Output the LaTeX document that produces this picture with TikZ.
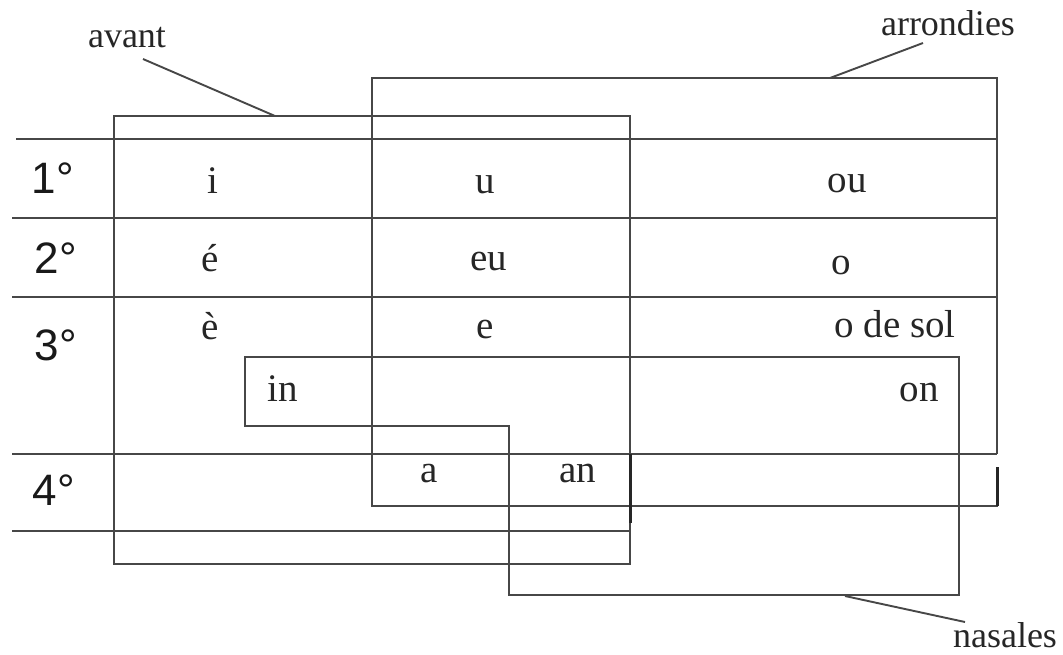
\documentclass[tikz,border=0pt]{standalone}
\usepackage{fontspec}
\setmainfont{Liberation Serif}
\newfontfamily\arialf{Liberation Sans}
\tikzset{
  ln/.style={draw=black!72, line width=1.9pt},
  thk/.style={draw=black!85, line width=3pt},
  vow/.style={anchor=base, inner sep=0pt, text=black!85, font=\fontsize{39}{40}\selectfont},
  lab/.style={anchor=base, inner sep=0pt, text=black!85, font=\fontsize{36}{40}\selectfont},
  deg/.style={anchor=center, inner sep=0pt, text=black!90, font=\arialf\fontsize{44}{48}\selectfont},
}
\begin{document}
\begin{tikzpicture}[x=1pt,y=-1pt]
\useasboundingbox (0,0) rectangle (1063,654);
% row lines
\draw[ln] (16,139) -- (997,139);
\draw[ln] (12,218) -- (997,218);
\draw[ln] (12,297) -- (997,297);
\draw[ln] (12,454) -- (997,454);
\draw[ln] (12,531) -- (630,531);
% avant box
\draw[ln] (114,116) rectangle (630,564);
% arrondies box
\draw[ln] (997,454) -- (997,78) -- (372,78) -- (372,506) -- (997,506) -- (997,467);
\draw[thk] (997,467) -- (997,506);
\draw[thk] (630,454) -- (630,523);
% nasales box
\draw[ln] (245,357) -- (959,357) -- (959,595) -- (509,595) -- (509,426) -- (245,426) -- cycle;
% row labels
\node[deg] (r1) at (53,178) {1°};
\node[deg] (r2) at (56,258) {2°};
\node[deg] (r3) at (56,345) {3°};
\node[deg] (r4) at (54,490) {4°};
% vowels
\node[vow] (vi) at (213,193) {i};
\node[vow] (vu) at (485,193) {u};
\node[vow] (vou) at (847,192) {ou};
\node[vow] (ve1) at (210,271) {é};
\node[vow] (veu) at (489,270) {eu};
\node[vow] (vo) at (841,274) {o};
\node[vow] (ve2) at (210,339) {è};
\node[vow] (ve) at (485,338) {e};
\node[vow] (vods) at (895,337) {o de sol};
\node[vow] (vin) at (283,401) {in};
\node[vow] (von) at (919,401) {on};
\node[vow] (va) at (429,482) {a};
\node[vow] (van) at (578,482) {an};
% labels
\node[lab] (avant) at (127,47) {avant};
\node[lab] (arrondies) at (948,35) {arrondies};
\node[lab] (nasales) at (1005,647) {nasales};
\coordinate (avA) at (143,59);
\coordinate (avB) at (275,116);
\coordinate (arA) at (923,43);
\coordinate (arB) at (830,78);
\coordinate (naA) at (965,622);
\coordinate (naB) at (845,596);
\draw[ln] (avA) -- (avB);
\draw[ln] (arA) -- (arB);
\draw[ln] (naA) -- (naB);
\end{tikzpicture}
\end{document}
